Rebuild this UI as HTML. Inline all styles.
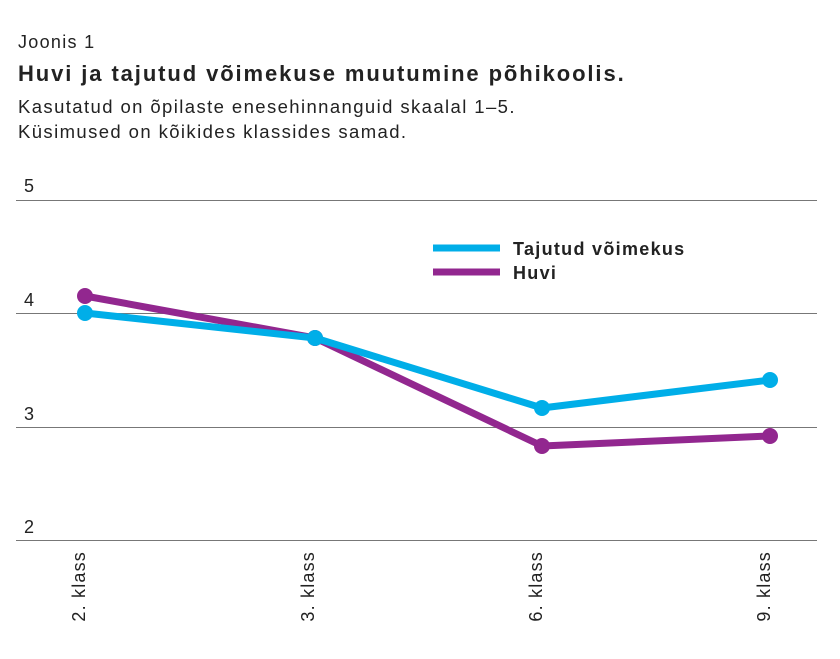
<!DOCTYPE html>
<html><head><meta charset="utf-8"><style>
body{margin:0;background:#fff;}
svg{display:block;font-family:"Liberation Sans",sans-serif;}
</style></head><body>
<svg width="840" height="659" viewBox="0 0 840 659">
<text x="18" y="48" font-size="18" fill="#222" letter-spacing="1.3">Joonis 1</text>
<text x="18" y="81" font-size="22" font-weight="bold" fill="#222" letter-spacing="1.9">Huvi ja tajutud võimekuse muutumine põhikoolis.</text>
<text x="18" y="113" font-size="18.5" fill="#222" letter-spacing="1.4">Kasutatud on õpilaste enesehinnanguid skaalal 1–5.</text>
<text x="18" y="138" font-size="18.5" fill="#222" letter-spacing="1.4">Küsimused on kõikides klassides samad.</text>
<g stroke="#777" stroke-width="1">
<line x1="16" y1="200.5" x2="817" y2="200.5"/>
<line x1="16" y1="313.5" x2="817" y2="313.5"/>
<line x1="16" y1="427.5" x2="817" y2="427.5"/>
<line x1="16" y1="540.5" x2="817" y2="540.5"/>
</g>
<g font-size="18" fill="#222">
<text x="24" y="192">5</text>
<text x="24" y="306">4</text>
<text x="24" y="420">3</text>
<text x="24" y="533">2</text>
</g>
<g font-size="18" fill="#222" text-anchor="end" letter-spacing="1.2">
<text transform="translate(85,551) rotate(-90)">2. klass</text>
<text transform="translate(314,551) rotate(-90)">3. klass</text>
<text transform="translate(542,551) rotate(-90)">6. klass</text>
<text transform="translate(770,551) rotate(-90)">9. klass</text>
</g>
<polyline points="85,296 315,338 542,446 770,436" fill="none" stroke="#92278f" stroke-width="7" stroke-linejoin="round"/>
<g fill="#92278f"><circle cx="85" cy="296" r="8"/><circle cx="315" cy="338" r="8"/><circle cx="542" cy="446" r="8"/><circle cx="770" cy="436" r="8"/></g>
<polyline points="85,313 315,338 542,408 770,380" fill="none" stroke="#00aee8" stroke-width="7" stroke-linejoin="round"/>
<g fill="#00aee8"><circle cx="85" cy="313" r="8"/><circle cx="315" cy="338" r="8"/><circle cx="542" cy="408" r="8"/><circle cx="770" cy="380" r="8"/></g>
<line x1="433" y1="248" x2="500" y2="248" stroke="#00aee8" stroke-width="7"/>
<line x1="433" y1="272" x2="500" y2="272" stroke="#92278f" stroke-width="7"/>
<text x="513" y="255" font-size="18" font-weight="bold" fill="#222" letter-spacing="1.3">Tajutud võimekus</text>
<text x="513" y="279" font-size="18" font-weight="bold" fill="#222" letter-spacing="1.3">Huvi</text>
</svg>
</body></html>
